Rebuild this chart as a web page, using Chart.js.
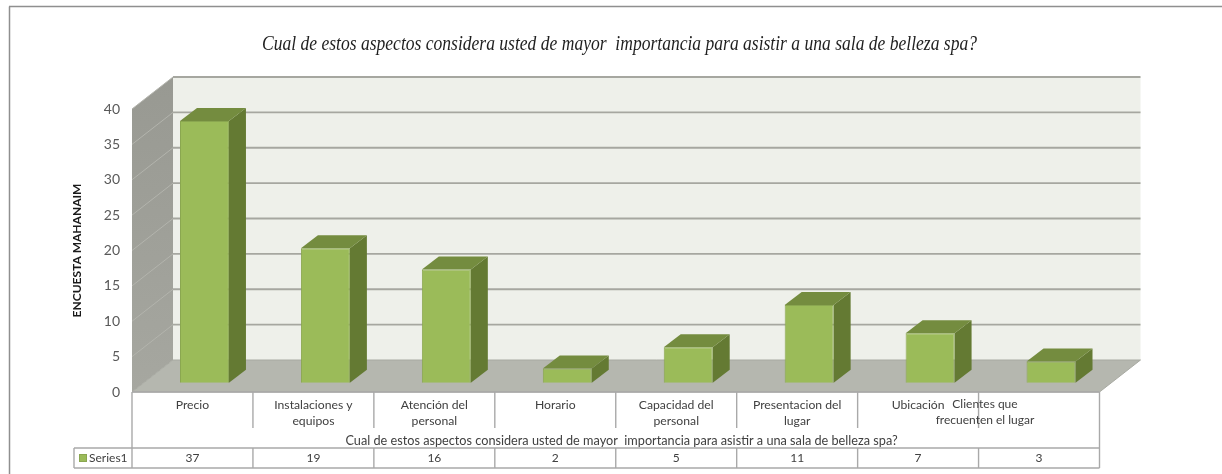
<!DOCTYPE html>
<html>
<head>
<meta charset="utf-8">
<style>
  html,body{margin:0;padding:0;background:#fff;overflow:hidden}
  #wrap{position:relative;width:1222px;height:474px}
</style>
<script src="https://cdn.jsdelivr.net/npm/chart.js@4"></script>
</head>
<body>
<div id="wrap"><canvas id="chart" width="1222" height="474"></canvas></div>
<script>
const categories = [
  'Precio',
  ['Instalaciones y', 'equipos'],
  ['Atención del', 'personal'],
  'Horario',
  ['Capacidad del', 'personal'],
  ['Presentacion del', 'lugar'],
  'Ubicación',
  ['Clientes que', 'frecuenten el lugar']
];
const seriesName = 'Series1';
const seriesValues = [37, 19, 16, 2, 5, 11, 7, 3];
const yTicks = [0, 5, 10, 15, 20, 25, 30, 35, 40];
const chartTitle = 'Cual de estos aspectos considera usted de mayor  importancia para asistir a una sala de belleza spa?';
const axisCaption = 'Cual de estos aspectos considera usted de mayor  importancia para asistir a una sala de belleza spa?';
const yAxisTitle = 'ENCUESTA MAHANAIM';

const LABEL_FONT = 'Lato, "Open Sans", sans-serif';
const TEXT_COLOR = '#404040';
const LINE_COLOR = '#a9a9a9';

// depth of the 3d box and of the bars inside it
const WALL_DX = 41, WALL_DY = -32;
const BAR_DX = 12, BAR_DY = -9.3;
const SIDE_DX = 17, SIDE_DY = -13;

function poly(ctx, pts, fill, stroke){
  ctx.beginPath();
  pts.forEach((p, i) => i ? ctx.lineTo(p[0], p[1]) : ctx.moveTo(p[0], p[1]));
  ctx.closePath();
  ctx.fillStyle = fill;
  ctx.fill();
  if (stroke){ ctx.strokeStyle = stroke; ctx.lineWidth = 1; ctx.stroke(); }
}

function line(ctx, x1, y1, x2, y2, color, width){
  ctx.beginPath();
  ctx.moveTo(x1, y1);
  ctx.lineTo(x2, y2);
  ctx.strokeStyle = color;
  ctx.lineWidth = width;
  ctx.stroke();
}

// frame, title, walls, floor and gridlines behind the bars
const box3d = {
  id: 'box3d',
  beforeDatasetsDraw(chart){
    const {ctx, chartArea: a, scales: {y}} = chart;
    const top = y.getPixelForValue(40), zero = y.getPixelForValue(0);
    ctx.save();

    line(ctx, 9.5, 6.5, 9.5, 474, '#8f8f8f', 1.5);
    line(ctx, 9, 6.5, 1222, 6.5, '#8f8f8f', 1.5);

    // long title, squeezed to the width of the plot header
    ctx.font = 'italic 21px "Liberation Serif", serif';
    ctx.fillStyle = '#1f1f1f';
    ctx.textAlign = 'center';
    ctx.textBaseline = 'middle';
    ctx.fillText(chartTitle, 619.5, 44.5, 715);

    // back wall
    poly(ctx, [[a.left + WALL_DX, top + WALL_DY], [a.right + WALL_DX, top + WALL_DY],
               [a.right + WALL_DX, zero + WALL_DY], [a.left + WALL_DX, zero + WALL_DY]], '#eef0ea');
    // side wall
    const side = ctx.createLinearGradient(0, top + WALL_DY, 0, zero);
    side.addColorStop(0, '#989992');
    side.addColorStop(1, '#a6a7a0');
    poly(ctx, [[a.left, top], [a.left + WALL_DX, top + WALL_DY],
               [a.left + WALL_DX, zero + WALL_DY], [a.left, zero]], side);
    // floor
    poly(ctx, [[a.left, zero], [a.left + WALL_DX, zero + WALL_DY],
               [a.right + WALL_DX, zero + WALL_DY], [a.right, zero]], '#b5b7af', '#a8aaa2');

    // gridlines run along the side wall and then across the back
    yTicks.forEach(v => {
      if (v === 0) return;
      const py = y.getPixelForValue(v);
      line(ctx, a.left, py, a.left + WALL_DX, py + WALL_DY, '#b3b4ad', 1);
      line(ctx, a.left + WALL_DX, py + WALL_DY, a.right + WALL_DX, py + WALL_DY, '#a6a7a0', 1.8);
    });
    ctx.restore();

    // bars sit a little way into the box; restored after they are drawn
    ctx.save();
    ctx.translate(BAR_DX, BAR_DY);
    chart.getDatasetMeta(0).data.forEach(bar => {
      const {x, y: by, base, width} = bar.getProps(['x', 'y', 'base', 'width'], true);
      const l = x - width / 2, r = x + width / 2;
      poly(ctx, [[r, by], [r + SIDE_DX, by + SIDE_DY], [r + SIDE_DX, base + SIDE_DY], [r, base]], '#647a33');
      poly(ctx, [[l, by], [l + SIDE_DX, by + SIDE_DY], [r + SIDE_DX, by + SIDE_DY], [r, by]], '#748c3f');
    });
  },
  afterDatasetsDraw(chart){
    chart.ctx.restore();
  }
};

// category dividers and the data table under the plot
const dataTable = {
  id: 'dataTable',
  afterDraw(chart){
    const {ctx, chartArea: a, scales: {x}} = chart;
    const zero = a.bottom, rowTop = 448, rowBottom = 468, legendLeft = 74;
    const step = (a.right - a.left) / categories.length;
    ctx.save();

    line(ctx, a.left, zero, a.right, zero, LINE_COLOR, 1.4);
    line(ctx, a.left, zero, a.left, rowBottom, LINE_COLOR, 1.4);
    line(ctx, a.right, zero, a.right, rowBottom, LINE_COLOR, 1.4);
    categories.forEach((c, i) => {
      if (i === 0) return;
      const px = x.getPixelForValue(i) - step / 2;
      line(ctx, px, zero, px, 428, LINE_COLOR, 1.4);
      line(ctx, px, rowTop, px, rowBottom, LINE_COLOR, 1.4);
    });
    line(ctx, legendLeft, rowTop, a.right, rowTop, LINE_COLOR, 1.4);
    line(ctx, legendLeft, rowBottom, a.right, rowBottom, LINE_COLOR, 1.4);
    line(ctx, legendLeft, rowTop, legendLeft, rowBottom, LINE_COLOR, 1.4);

    ctx.fillStyle = '#9bbb59';
    ctx.strokeStyle = '#8aa650';
    ctx.lineWidth = 1;
    ctx.fillRect(79, 454, 8, 8);
    ctx.strokeRect(79.5, 454.5, 7, 7);

    ctx.font = '12px ' + LABEL_FONT;
    ctx.fillStyle = TEXT_COLOR;
    ctx.textBaseline = 'middle';
    ctx.textAlign = 'left';
    ctx.fillText(seriesName, 89, 458);
    ctx.textAlign = 'center';
    seriesValues.forEach((v, i) => ctx.fillText(String(v), x.getPixelForValue(i), 458));

    // the last label overflows its cell to the left
    const lastLines = categories[categories.length - 1];
    lastLines.forEach((t, i) => ctx.fillText(t, 985, 404 + i * 16));

    // caption sits a few pixels right of the plot centre
    ctx.font = '12.7px ' + LABEL_FONT;
    ctx.fillText(axisCaption, 621.5, 441);
    ctx.restore();
  }
};

new Chart(document.getElementById('chart'), {
  type: 'bar',
  data: {
    labels: categories,
    datasets: [{
      label: seriesName,
      data: seriesValues,
      backgroundColor: '#9bbb59',
      borderColor: '#8aa650',
      borderWidth: 1,
      barPercentage: 0.405,
      categoryPercentage: 1,
      clip: false
    }]
  },
  options: {
    responsive: false,
    animation: false,
    layout: { padding: { left: 70, top: 109, right: 122.5, bottom: 26 } },
    plugins: {
      legend: { display: false },
      title: { display: false },
      tooltip: { enabled: false }
    },
    scales: {
      x: {
        grid: { display: false, drawTicks: false },
        border: { display: false },
        ticks: {
          autoSkip: false,
          maxRotation: 0,
          padding: 5,
          color: TEXT_COLOR,
          font: { family: LABEL_FONT, size: 12.2, lineHeight: 1.31 },
          callback(value, index){
            return index === categories.length - 1 ? '' : this.getLabelForValue(value);
          }
        },
        afterFit(scale){ scale.height = 56; }
      },
      y: {
        min: 0,
        max: 40,
        afterBuildTicks(scale){ scale.ticks = yTicks.map(v => ({ value: v })); },
        grid: { display: false, drawTicks: false },
        border: { display: false },
        ticks: {
          padding: 12,
          color: '#595959',
          font: { family: LABEL_FONT, size: 14 }
        },
        title: {
          display: true,
          text: yAxisTitle,
          color: '#1a1a1a',
          padding: 0,
          font: { family: LABEL_FONT, size: 12, weight: 'bold' }
        },
        afterFit(scale){ scale.width = 62; }
      }
    }
  },
  plugins: [box3d, dataTable]
});
</script>
</body>
</html>
